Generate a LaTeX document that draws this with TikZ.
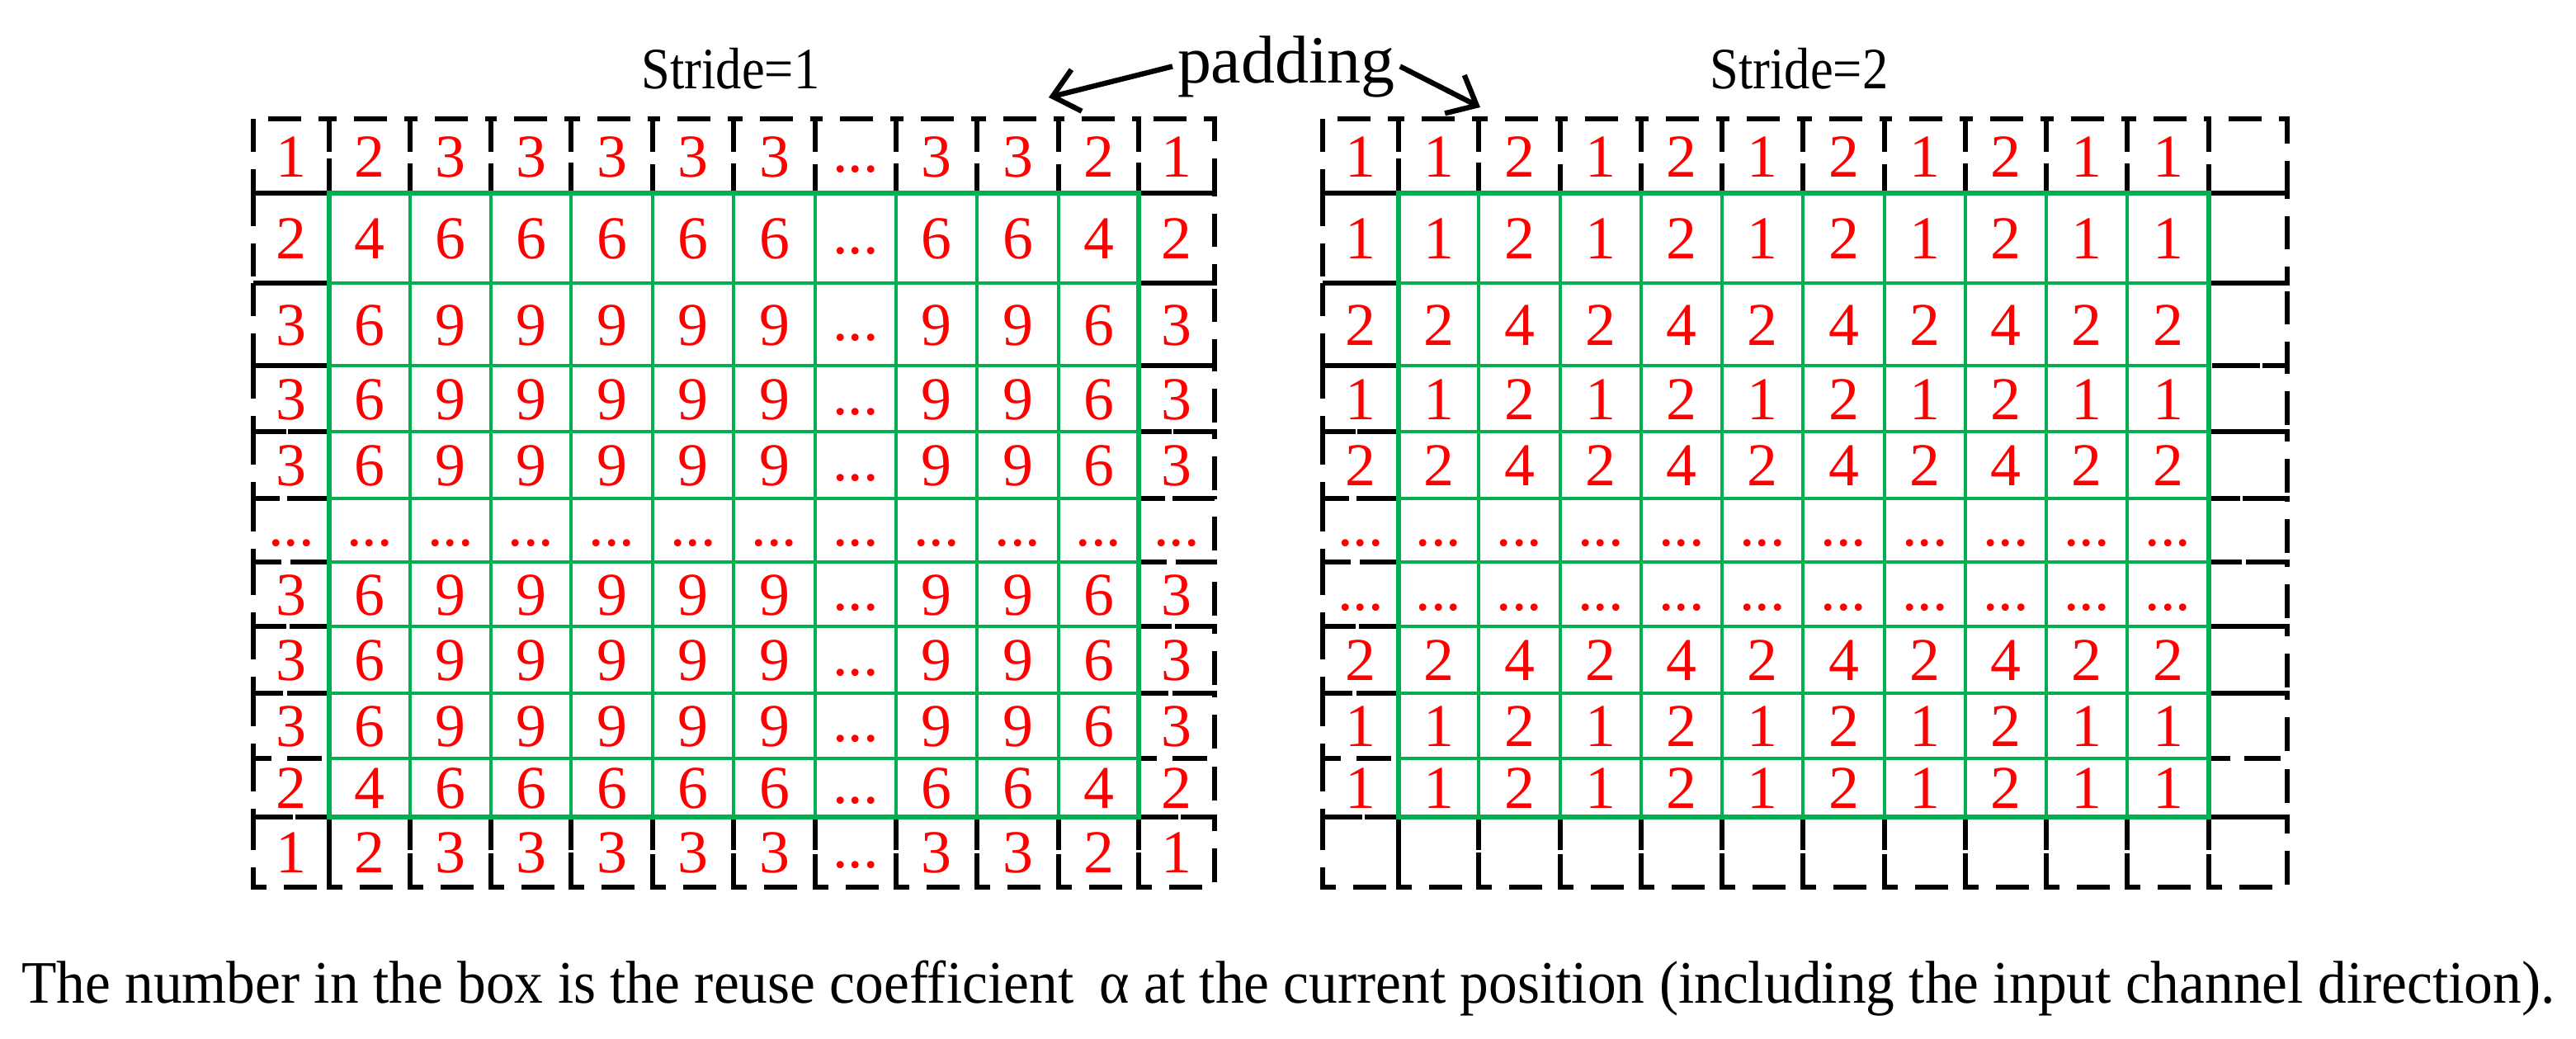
\documentclass[tikz,border=0pt]{standalone}
\usepackage{fontspec}
\setmainfont{Liberation Serif}
\usepackage{graphicx}
\usetikzlibrary{arrows.meta}
\definecolor{gridgreen}{RGB}{0,176,80}
\begin{document}
\begin{tikzpicture}[
  padcell/.style={draw=black, line width=1.7pt, dash pattern=on 11.4pt off 6pt},
  grn/.style={draw=gridgreen, line width=1.4pt},
  grnborder/.style={draw=gridgreen, line width=1.8pt},
  num/.style={text=red, font=\fontsize{21}{25}\selectfont, inner sep=0pt, anchor=base},
  lbl/.style={font=\fontsize{20.2}{24}\selectfont, inner sep=0pt, anchor=base west},
  arr/.style={line width=1.8pt, -{Straight Barb[length=3mm, width=5.2mm]}}
]
\useasboundingbox (0,0) rectangle (31.22,-12.58);
\def\D{\raisebox{0.06cm}{...}}
% line positions
\foreach \x [count=\i from 0] in {3.07,3.99,4.97,5.95,6.92,7.91,8.89,9.88,10.86,11.84,12.83,13.80,14.72}
  \coordinate (LX\i) at (\x,0);
\foreach \x [count=\i from 0] in {16.03,16.95,17.92,18.91,19.89,20.87,21.85,22.84,23.82,24.80,25.78,26.77,27.72}
  \coordinate (RX\i) at (\x,0);
\foreach \y [count=\j from 0] in {1.44,2.34,3.43,4.43,5.23,6.04,6.81,7.59,8.40,9.19,9.90,10.75}
  \coordinate (Y\j) at (0,-\y);
% label positions
\foreach \x [count=\i from 0] in {3.53,4.48,5.46,6.435,7.415,8.40,9.385,10.37,11.35,12.335,13.315,14.26}
  \coordinate (LC\i) at (\x,0);
\foreach \x [count=\i from 0] in {16.49,17.435,18.415,19.40,20.38,21.36,22.345,23.33,24.31,25.29,26.275,27.245}
  \coordinate (RC\i) at (\x,0);
\foreach \y [count=\j from 0] in {2.14,3.135,4.18,5.08,5.885,6.675,7.45,8.245,9.045,9.795,10.575}
  \coordinate (B\j) at (0,-\y);
% dashed padding cells
\foreach \c [evaluate=\c as \cc using int(\c+1)] in {0,...,11} {
  \draw[padcell] (LX\c |- Y0) rectangle (LX\cc |- Y1);
  \draw[padcell] (LX\c |- Y10) rectangle (LX\cc |- Y11);
  \draw[padcell] (RX\c |- Y0) rectangle (RX\cc |- Y1);
  \draw[padcell] (RX\c |- Y10) rectangle (RX\cc |- Y11);
}
\foreach \r [evaluate=\r as \rr using int(\r+1)] in {1,...,9} {
  \draw[padcell] (LX0 |- Y\r) rectangle (LX1 |- Y\rr);
  \draw[padcell] (LX11 |- Y\r) rectangle (LX12 |- Y\rr);
  \draw[padcell] (RX0 |- Y\r) rectangle (RX1 |- Y\rr);
  \draw[padcell] (RX11 |- Y\r) rectangle (RX12 |- Y\rr);
}
% green inner grids
\foreach \i in {2,...,10} {
  \draw[grn] (LX\i |- Y1) -- (LX\i |- Y10);
  \draw[grn] (RX\i |- Y1) -- (RX\i |- Y10);
}
\foreach \j in {2,...,9} {
  \draw[grn] (LX1 |- Y\j) -- (LX11 |- Y\j);
  \draw[grn] (RX1 |- Y\j) -- (RX11 |- Y\j);
}
\draw[grnborder] (LX1 |- Y1) rectangle (LX11 |- Y10);
\draw[grnborder] (RX1 |- Y1) rectangle (RX11 |- Y10);
% left grid numbers
\foreach \row [count=\r from 0] in {
  {1,2,3,3,3,3,3,\D,3,3,2,1},
  {2,4,6,6,6,6,6,\D,6,6,4,2},
  {3,6,9,9,9,9,9,\D,9,9,6,3},
  {3,6,9,9,9,9,9,\D,9,9,6,3},
  {3,6,9,9,9,9,9,\D,9,9,6,3},
  {\D,\D,\D,\D,\D,\D,\D,\D,\D,\D,\D,\D},
  {3,6,9,9,9,9,9,\D,9,9,6,3},
  {3,6,9,9,9,9,9,\D,9,9,6,3},
  {3,6,9,9,9,9,9,\D,9,9,6,3},
  {2,4,6,6,6,6,6,\D,6,6,4,2},
  {1,2,3,3,3,3,3,\D,3,3,2,1}} {
  \foreach \v [count=\c from 0] in \row {
    \node[num] (L\r-\c) at (LC\c |- B\r) {\v};
  }
}
% right grid numbers
\foreach \row [count=\r from 0] in {
  {1,1,2,1,2,1,2,1,2,1,1},
  {1,1,2,1,2,1,2,1,2,1,1},
  {2,2,4,2,4,2,4,2,4,2,2},
  {1,1,2,1,2,1,2,1,2,1,1},
  {2,2,4,2,4,2,4,2,4,2,2},
  {\D,\D,\D,\D,\D,\D,\D,\D,\D,\D,\D},
  {\D,\D,\D,\D,\D,\D,\D,\D,\D,\D,\D},
  {2,2,4,2,4,2,4,2,4,2,2},
  {1,1,2,1,2,1,2,1,2,1,1},
  {1,1,2,1,2,1,2,1,2,1,1}} {
  \foreach \v [count=\c from 0] in \row {
    \node[num] (R\r-\c) at (RC\c |- B\r) {\v};
  }
}
% titles
\node[lbl] (s1) at (7.77,-1.07) {\scalebox{0.88}[1]{Stride=1}};
\node[lbl] (s2) at (20.72,-1.07) {\scalebox{0.88}[1]{Stride=2}};
\node[font=\fontsize{23.3}{28}\selectfont, inner sep=0pt, outer sep=0.06cm, anchor=base west] (pad) at (14.21,-1.00) {padding};
\coordinate (tipL) at (12.71,-1.18);
\coordinate (tipR) at (17.94,-1.30);
\draw[arr] (pad.west) -- (tipL);
\draw[arr] (pad.east) -- (tipR);
% caption
\node[font=\fontsize{20.8}{25}\selectfont, inner sep=0pt, anchor=base west] (cap) at (0.255,-12.15)
  {\resizebox{30.70cm}{\height}{The number in the box is the reuse coefficient\hspace{0.45em}α at the current position (including the input channel direction).}};
\end{tikzpicture}
\end{document}
